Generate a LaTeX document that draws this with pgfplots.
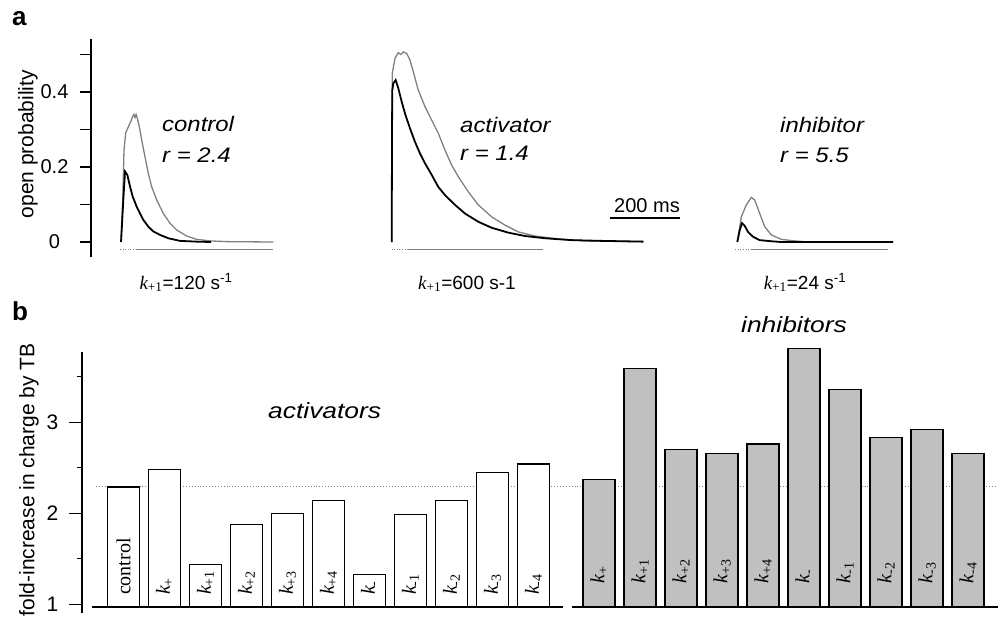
\documentclass[border=0pt]{standalone}
\usepackage{pgfplots}
\pgfplotsset{compat=1.18}
\usepackage{pgfplotstable}
\usepackage{graphicx}
\usepackage{fontspec}
\setmainfont{Liberation Sans}
\newfontfamily\tms{Liberation Serif}
\newcommand{\fs}[1]{\fontsize{#1}{#1}\selectfont}
\newcommand{\kk}[1]{{\tms\itshape k}\textsubscript{\tms #1}}
\newcommand{\itl}[2][1.14]{\scalebox{#1}[1]{\itshape #2}}
\definecolor{barfill}{RGB}{192,192,192}

% ---------- panel a traces (t in ms from trace start, open probability) ----------
\pgfplotstableread{
t p
2.9 0
7.7 0.112
11.4 0.245
16.3 0.291
23.7 0.307
30.6 0.321
36.3 0.335
40.0 0.340
42.9 0.332
46.0 0.340
49.4 0.330
55.1 0.308
62.0 0.272
71.4 0.227
80.9 0.183
90.6 0.147
104.9 0.112
123.7 0.076
142.9 0.050
162.0 0.032
190.6 0.016
219.0 0.007
257.0 0.003
305.0 0.001
438.0 0
}\ctrlgray
\pgfplotstableread{
t p
2.9 0
9.4 0.112
14.3 0.188
20.9 0.179
28.6 0.148
36.3 0.121
47.7 0.094
57.1 0.076
66.6 0.059
80.9 0.041
95.1 0.028
114.3 0.019
138.0 0.010
171.4 0.003
219.0 0.001
260.0 0
}\ctrlblack
\pgfplotstableread{
t p
0 0
0.8 0.300
1.7 0.450
9.4 0.490
18.9 0.505
26.0 0.500
33.1 0.507
42.9 0.503
52.3 0.485
61.7 0.454
76.0 0.405
95.1 0.361
114.3 0.325
133.1 0.290
152.3 0.245
171.4 0.205
190.3 0.174
218.9 0.134
247.4 0.099
285.7 0.067
323.7 0.045
361.7 0.027
409.4 0.016
476.0 0.008
552.0 0.003
718.9 0.001
}\actgray
\pgfplotstableread{
t p
0 0
1.0 0.300
1.7 0.405
4.6 0.423
11.4 0.432
18.9 0.410
28.6 0.374
38.0 0.343
52.3 0.303
66.6 0.267
80.9 0.236
95.1 0.210
114.3 0.179
133.1 0.147
152.3 0.125
180.9 0.099
209.4 0.076
247.4 0.054
285.7 0.038
333.1 0.025
380.9 0.016
438.0 0.010
514.3 0.005
600.0 0.003
718.9 0.001
}\actblack
\pgfplotstableread{
t p
0 0
11.4 0.067
25.7 0.099
40.0 0.119
49.7 0.112
64.0 0.076
78.3 0.041
97.1 0.019
125.7 0.007
164.0 0.003
202.0 0
444.8 0
}\inhgray
\pgfplotstableread{
t p
0 0
6.9 0.032
13.4 0.050
21.1 0.043
30.6 0.027
44.9 0.014
64.0 0.005
97.1 0.002
125.7 0
444.8 0
}\inhblack

% ---------- panel b bars ----------
\pgfplotstableread{
x v
0 2.29
1 2.48
2 1.44
3 1.88
4 2.00
5 2.14
6 1.33
7 1.99
8 2.14
9 2.45
10 2.54
}\actbars
\pgfplotstableread{
x v
11.6 2.37
12.6 3.59
13.6 2.70
14.6 2.66
15.6 2.76
16.6 3.81
17.6 3.36
18.6 2.83
19.6 2.92
20.6 2.66
}\inhbars

\begin{document}
\begin{tikzpicture}
\useasboundingbox (0,0) rectangle (998pt,-625pt);

% ================= panel a =================
\begin{axis}[
  at={(91pt,-257pt)}, anchor=south west,
  x=0.35pt, y=375pt,
  xmin=0, xmax=2591, ymin=-0.04, ymax=0.541,
  axis x line=none, axis y line=left,
  y axis line style={-, line width=1.2pt},
  xtick=\empty,
  ytick={0,0.1,0.2,0.3,0.4,0.5},
  yticklabels={0,,0.2,,0.4,},
  tick align=outside, major tick length=11pt,
  ytick style={line width=1.2pt, black},
  yticklabel style={font=\fs{20}, anchor=center, xshift=-25.5pt},
  ylabel={open probability},
  ylabel style={at={(axis description cs:-0.0695,0.518)}, anchor=center, font=\fs{21}},
  clip=false,
]
\addplot[gray, line width=1.3pt] table[x expr=\thisrow{t}+82.9, y=p] {\ctrlgray};
\addplot[black, line width=1.8pt] table[x expr=\thisrow{t}+82.9, y=p] {\ctrlblack};
\addplot[gray, line width=1.3pt] table[x expr=\thisrow{t}+859.1, y=p] {\actgray};
\addplot[black, line width=1.8pt] table[x expr=\thisrow{t}+859.1, y=p] {\actblack};
\addplot[gray, line width=1.3pt] table[x expr=\thisrow{t}+1846.6, y=p] {\inhgray};
\addplot[black, line width=1.8pt] table[x expr=\thisrow{t}+1846.6, y=p] {\inhblack};
% stimulus baselines
\addplot[gray, line width=1pt] coordinates {(128.6,-0.021) (520,-0.021)};
\addplot[gray, line width=1pt, dash pattern=on 1pt off 1.6pt] coordinates {(82.9,-0.020) (128.6,-0.020)};
\addplot[gray, line width=1pt] coordinates {(902,-0.021) (1292.3,-0.021)};
\addplot[gray, line width=1pt, dash pattern=on 1pt off 1.6pt] coordinates {(859.1,-0.020) (902,-0.020)};
\addplot[gray, line width=1pt] coordinates {(1884.8,-0.021) (2277,-0.021)};
\addplot[gray, line width=1pt, dash pattern=on 1pt off 1.6pt] coordinates {(1840.8,-0.020) (1884.8,-0.020)};
% 200 ms scale bar
\addplot[black, line width=1.6pt] coordinates {(1482.9,0.064) (1682.9,0.064)};
\end{axis}

% ================= panel b =================
\begin{axis}[
  at={(82pt,-613pt)}, anchor=south west,
  x=41pt, y=91pt,
  xmin=-1.012, xmax=21.33, ymin=-0.066, ymax=2.802,
  axis x line=none, axis y line=left,
  y axis line style={-, line width=1.2pt},
  xtick=\empty,
  ytick={0.03,1.03,2.03},
  yticklabels={1,2,3},
  minor ytick={0.53,1.53,2.53},
  tick align=outside, major tick length=13pt, minor tick length=5pt,
  ytick style={line width=1.2pt, black},
  yticklabel style={font=\fs{21}, anchor=center, xshift=-16.5pt},
  ylabel={fold-increase in charge by TB},
  ylabel style={at={(axis description cs:-0.0579,0.51)}, anchor=center, font=\fs{21}},
  clip=false,
]
\addplot[gray, dotted, line width=0.9pt] coordinates {(-0.67,1.33) (21.33,1.33)};
\addplot[ybar, bar shift=0pt, bar width=0.78, fill=white, draw=black, line width=1.3pt]
  table[x=x, y expr=\thisrow{v}-0.97] {\actbars};
\addplot[ybar, bar shift=0pt, bar width=0.78, fill=barfill, draw=black, line width=1.3pt]
  table[x=x, y expr=\thisrow{v}-0.97] {\inhbars};
\addplot[black, line width=1.4pt] coordinates {(-0.77,0) (10.72,0)};
\addplot[black, line width=1.4pt] coordinates {(10.94,0) (21.33,0)};
\addplot[draw=none, nodes near coords, point meta=explicit symbolic,
  nodes near coords align=horizontal,
  every node near coord/.append style={rotate=90, anchor=west, inner sep=0pt, font=\fs{20}}]
  coordinates {(0,0.13) [{\tms control}] (1,0.13) [\kk{+}] (2,0.13) [\kk{+1}] (3,0.13) [\kk{+2}]
   (4,0.13) [\kk{+3}] (5,0.13) [\kk{+4}] (6,0.13) [\kk{-}] (7,0.13) [\kk{-1}] (8,0.13) [\kk{-2}]
   (9,0.13) [\kk{-3}] (10,0.13) [\kk{-4}]};
\addplot[draw=none, nodes near coords, point meta=explicit symbolic,
  nodes near coords align=horizontal,
  every node near coord/.append style={rotate=90, anchor=west, inner sep=0pt, font=\fs{20}}]
  coordinates {(11.6,0.26) [\kk{+}] (12.6,0.26) [\kk{+1}] (13.6,0.26) [\kk{+2}] (14.6,0.26) [\kk{+3}]
   (15.6,0.26) [\kk{+4}] (16.6,0.26) [\kk{-}] (17.6,0.26) [\kk{-1}] (18.6,0.26) [\kk{-2}]
   (19.6,0.26) [\kk{-3}] (20.6,0.26) [\kk{-4}]};
\end{axis}

% ================= texts =================
\node[anchor=base west, inner sep=0pt, font=\fs{26}\bfseries] at (12pt,-25pt) {a};
\node[anchor=base west, inner sep=0pt, font=\fs{26}\bfseries] at (12pt,-320pt) {b};

\node[anchor=base west, inner sep=0pt, font=\fs{21}] at (162pt,-131pt) {\itl{control}};
\node[anchor=base west, inner sep=0pt, font=\fs{21}] at (162pt,-162pt) {\itl{r = 2.4}};
\node[anchor=base west, inner sep=0pt, font=\fs{21}] at (460pt,-132pt) {\itl{activator}};
\node[anchor=base west, inner sep=0pt, font=\fs{21}] at (460pt,-160pt) {\itl{r = 1.4}};
\node[anchor=base west, inner sep=0pt, font=\fs{21}] at (780pt,-132pt) {\itl{inhibitor}};
\node[anchor=base west, inner sep=0pt, font=\fs{21}] at (780pt,-162pt) {\itl{r = 5.5}};
\node[anchor=base, inner sep=0pt, font=\fs{20}] at (647pt,-212pt) {200 ms};

\node[anchor=base, inner sep=0pt, font=\fs{19}] at (186pt,-289pt) {\kk{+1}=120 s\textsuperscript{-1}};
\node[anchor=base, inner sep=0pt, font=\fs{19}] at (467pt,-289pt) {\kk{+1}=600 s-1};
\node[anchor=base, inner sep=0pt, font=\fs{19}] at (805pt,-289pt) {\kk{+1}=24 s\textsuperscript{-1}};

\node[anchor=base west, inner sep=0pt, font=\fs{22}] at (268pt,-418pt) {\itl[1.2]{activators}};
\node[anchor=base west, inner sep=0pt, font=\fs{22}] at (741pt,-332pt) {\itl[1.2]{inhibitors}};
\end{tikzpicture}
\end{document}
